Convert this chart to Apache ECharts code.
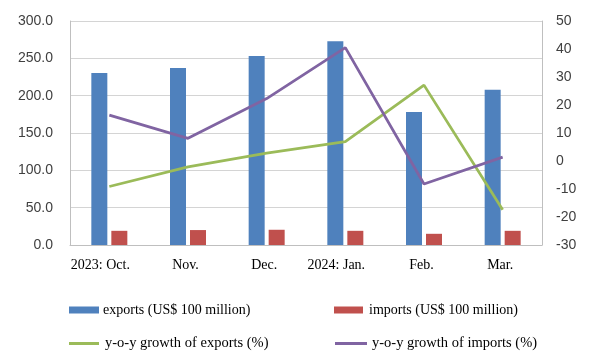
<!DOCTYPE html>
<html><head><meta charset="utf-8">
<script src="https://cdn.jsdelivr.net/npm/echarts@6/dist/echarts.min.js"></script>
<style>html,body{margin:0;padding:0;background:#fff}#c{width:594px;height:358px}</style>
</head><body><div id="c"></div>
<script>
var categories = ['2023: Oct.', 'Nov.', 'Dec.', '2024: Jan.', 'Feb.', 'Mar.'];
var exportsVal = [230.5, 237, 253, 273, 178, 208];
var importsVal = [19, 20, 20.4, 19, 15, 19];
var exportsGrowth = [-9.1, -2.1, 2.8, 6.9, 27.1, -17.4];
var importsGrowth = [16.4, 8.1, 22.3, 40.5, -8.2, 1.4];
var leftTicks = {min: 0, max: 300, interval: 50};
var rightTicks = {min: -30, max: 50, interval: 10};
var names = ['exports (US$ 100 million)', 'imports (US$ 100 million)', 'y-o-y growth of exports (%)', 'y-o-y growth of imports (%)'];

var chart = echarts.init(document.getElementById('c'), null, {renderer: 'canvas'});
var serif = '"Liberation Serif", "Times New Roman", serif';
var sans = '"Liberation Sans", Arial, sans-serif';
function lg(name, left, top, w, h, fs, gap) {
  return {data: [name], left: left, top: top, icon: 'rect', itemWidth: w, itemHeight: h, itemGap: 0,
    textStyle: {fontFamily: serif, fontSize: fs, color: '#000', padding: [0, 0, 0, gap - 5]}, padding: 0};
}
chart.setOption({
  animation: false,
  grid: {left: 70, right: 52, top: 21, bottom: 113},
  legend: [lg(names[0], 69, 303, 30, 7, 14, 4), lg(names[1], 334, 303, 29, 7, 14, 6),
           lg(names[2], 69, 336, 30, 3, 14.5, 6), lg(names[3], 335, 336, 32, 3, 14.5, 5)],
  xAxis: {type: 'category', data: categories,
    axisLine: {lineStyle: {color: '#BFBFBF', width: 1}}, axisTick: {show: false},
    axisLabel: {fontFamily: serif, fontSize: 14, color: '#000', margin: 13, interval: 0,
      formatter: function (v) { return v.indexOf(':') >= 0 ? '{y|' + v + '}' : '{m|' + v + '}'; },
      rich: {y: {fontFamily: serif, fontSize: 14, color: '#000', padding: [0, 18, 0, 0]},
             m: {fontFamily: serif, fontSize: 14, color: '#000', padding: [0, 5, 0, 0]}}}},
  yAxis: [
    {type: 'value', min: leftTicks.min, max: leftTicks.max, interval: leftTicks.interval,
      axisLine: {show: true, lineStyle: {color: '#BFBFBF'}}, axisTick: {show: false},
      splitLine: {lineStyle: {color: '#D4D4D4', width: 1}},
      axisLabel: {fontFamily: sans, fontSize: 14, color: '#404040', margin: 17, formatter: function (v) { return v.toFixed(1); }}},
    {type: 'value', min: rightTicks.min, max: rightTicks.max, interval: rightTicks.interval, position: 'right',
      axisLine: {show: true, lineStyle: {color: '#BFBFBF'}}, axisTick: {show: false},
      splitLine: {show: false},
      axisLabel: {fontFamily: sans, fontSize: 14, color: '#404040', margin: 14}}
  ],
  series: [
    {name: names[0], type: 'bar', data: exportsVal, barWidth: 16, barGap: '25%', itemStyle: {color: '#4F81BD'}},
    {name: names[1], type: 'bar', data: importsVal, barWidth: 16, barGap: '25%', itemStyle: {color: '#C0504D'}},
    {name: names[2], type: 'line', yAxisIndex: 1, data: exportsGrowth, showSymbol: false, symbol: 'none',
      lineStyle: {color: '#9BBB59', width: 2.75}, itemStyle: {color: '#9BBB59'}},
    {name: names[3], type: 'line', yAxisIndex: 1, data: importsGrowth, showSymbol: false, symbol: 'none',
      lineStyle: {color: '#8064A2', width: 2.75}, itemStyle: {color: '#8064A2'}}
  ]
});
</script></body></html>
